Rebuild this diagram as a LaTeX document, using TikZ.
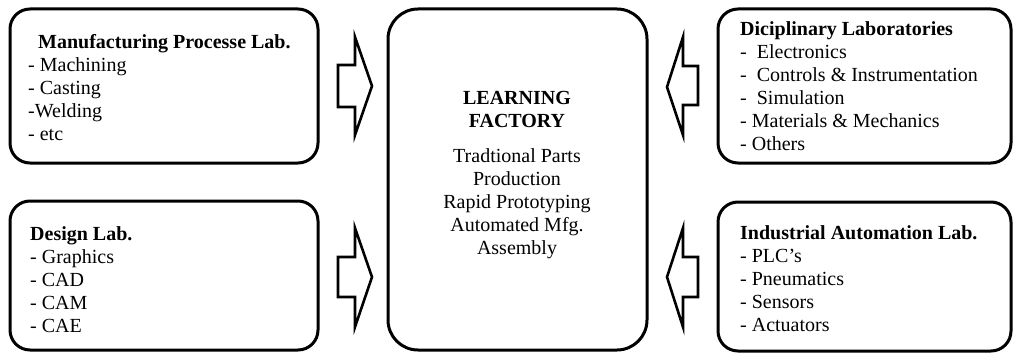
\documentclass[tikz,border=0pt]{standalone}
\usepackage{fontspec}
\setmainfont{Liberation Serif}
\begin{document}
\begin{tikzpicture}[x=1pt,y=-1pt,
  labbox/.style={draw, line width=3pt, rounded corners=20pt},
  hubbox/.style={draw, line width=3pt, rounded corners=30pt},
  blockarrow/.style={draw, line width=2.6pt, line join=miter, fill=white},
  listtext/.style={anchor=base west, inner sep=0pt, align=left,
    font=\fontsize{20}{23}\selectfont},
  hubtext/.style={anchor=base, inner sep=0pt, align=center,
    font=\fontsize{20}{23}\selectfont}]
\useasboundingbox (0,0) rectangle (1013,353);

% lab boxes
\draw[labbox] (10,9) rectangle (318,163);
\draw[labbox] (10,201) rectangle (318,350);
\draw[labbox] (718,9) rectangle (1011,163);
\draw[labbox] (718,202) rectangle (1011,351);
% central box
\draw[hubbox] (388,9) rectangle (647,350);

% lab contents (nodes placed by the baseline of their last line)
\node[listtext] (mfg) at (28,140)
  {\hspace*{10pt}\textbf{Manufacturing Processe Lab.}\\
   - Machining\\- Casting\\-Welding\\- etc};
\node[listtext] (design) at (30,332)
  {\textbf{Design Lab.}\\- Graphics\\- CAD\\- CAM\\- CAE};
\node[listtext] (disc) at (740,150)
  {\textbf{Diciplinary Laboratories}\\
   -\ \ Electronics\\-\ \ Controls \& Instrumentation\\-\ \ Simulation\\
   - Materials \& Mechanics\\- Others};
\node[listtext] (auto) at (740,331)
  {\textbf{Industrial Automation Lab.}\\- PLC’s\\- Pneumatics\\- Sensors\\- Actuators};

% central contents
\node[hubtext] (lf) at (517,128) {\textbf{LEARNING}\\\textbf{FACTORY}};
\node[hubtext] (lfitems) at (517,254)
  {Tradtional Parts\\Production\\Rapid Prototyping\\Automated Mfg.\\Assembly};

% block arrows towards the learning factory
\draw[blockarrow] (338,65) -- (355,65) -- (355,37) -- (372,86) -- (355,135)
  -- (355,107) -- (338,107) -- cycle;
\draw[blockarrow] (338,257) -- (355,257) -- (355,228) -- (372,277) -- (355,327)
  -- (355,297) -- (338,297) -- cycle;
\draw[blockarrow] (698,66) -- (683,66) -- (683,37) -- (667,87) -- (683,135)
  -- (683,105) -- (698,105) -- cycle;
\draw[blockarrow] (698,257) -- (683,257) -- (683,228) -- (667,277) -- (683,327)
  -- (683,297) -- (698,297) -- cycle;
\end{tikzpicture}
\end{document}
